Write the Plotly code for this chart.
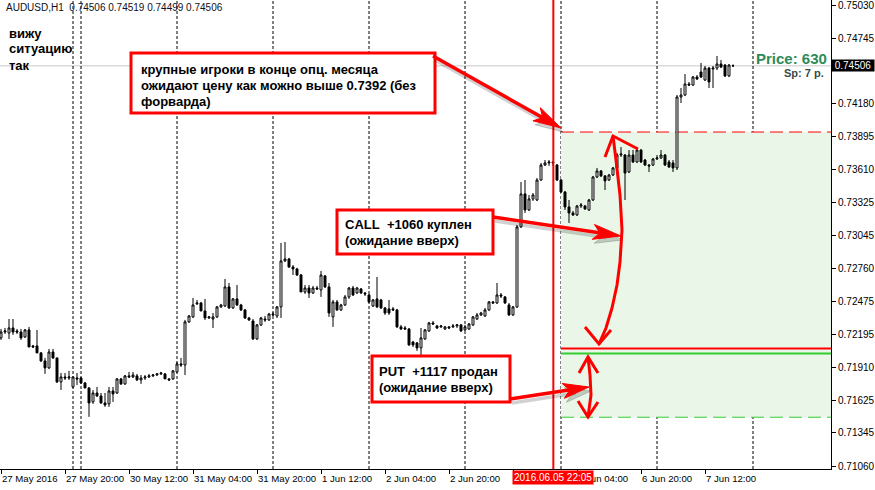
import math
import plotly.graph_objects as go

# ---------------- data (AUDUSD H1) ----------------
bar_index = list(range(184))  # 0 = 27 May 2016 04:00, one bar per hour (weekend skipped)

opens = [
    0.72163, 0.72214, 0.72206, 0.72249, 0.72223, 0.72214, 0.72171, 0.72232, 0.72094, 0.72094,
    0.72034, 0.71965, 0.71905, 0.72042, 0.71991, 0.71784, 0.71827, 0.71818, 0.71741, 0.71818,
    0.71818, 0.71775, 0.71732, 0.71612, 0.71689, 0.71663, 0.71603, 0.71595, 0.71706, 0.71689,
    0.71810, 0.71767, 0.71836, 0.71827, 0.71836, 0.71801, 0.71818, 0.71827, 0.71836, 0.71844,
    0.71853, 0.71853, 0.71810, 0.71810, 0.71870, 0.71939, 0.71930, 0.72301, 0.72344, 0.72456,
    0.72464, 0.72395, 0.72335, 0.72326, 0.72344, 0.72430, 0.72438, 0.72602, 0.72421, 0.72499,
    0.72447, 0.72404, 0.72335, 0.72309, 0.72154, 0.72275, 0.72326, 0.72318, 0.72369, 0.72352,
    0.72430, 0.72826, 0.72843, 0.72774, 0.72757, 0.72705, 0.72559, 0.72593, 0.72550, 0.72593,
    0.72576, 0.72697, 0.72602, 0.72344, 0.72473, 0.72404, 0.72447, 0.72516, 0.72593, 0.72550,
    0.72585, 0.72550, 0.72533, 0.72438, 0.72499, 0.72490, 0.72421, 0.72413, 0.72413, 0.72404,
    0.72258, 0.72249, 0.72240, 0.72128, 0.72120, 0.72077, 0.72154, 0.72223, 0.72292, 0.72266,
    0.72258, 0.72240, 0.72258, 0.72258, 0.72266, 0.72275, 0.72232, 0.72240, 0.72275, 0.72326,
    0.72361, 0.72352, 0.72404, 0.72473, 0.72464, 0.72533, 0.72516, 0.72447, 0.72361, 0.72430,
    0.73119, 0.73403, 0.73265, 0.73360, 0.73351, 0.73523, 0.73652, 0.73670, 0.73678, 0.73652,
    0.73523, 0.73420, 0.73291, 0.73239, 0.73222, 0.73299, 0.73299, 0.73265, 0.73351, 0.73549,
    0.73601, 0.73558, 0.73523, 0.73566, 0.73627, 0.73738, 0.73738, 0.73592, 0.73738, 0.73678,
    0.73781, 0.73695, 0.73652, 0.73652, 0.73704, 0.73713, 0.73738, 0.73678, 0.73670, 0.73627,
    0.74238, 0.74255, 0.74350, 0.74341, 0.74410, 0.74453, 0.74384, 0.74487, 0.74479, 0.74487,
    0.74522, 0.74513, 0.74419, 0.74506,
]
highs = [
    0.72240, 0.72249, 0.72326, 0.72326, 0.72240, 0.72240, 0.72240, 0.72258, 0.72103, 0.72232,
    0.72042, 0.71991, 0.72068, 0.72068, 0.71991, 0.71861, 0.71861, 0.71879, 0.71827, 0.71861,
    0.71827, 0.71784, 0.71741, 0.71715, 0.71741, 0.71689, 0.71689, 0.71741, 0.71741, 0.71818,
    0.71818, 0.71844, 0.71870, 0.71870, 0.71853, 0.71844, 0.71844, 0.71853, 0.71853, 0.71861,
    0.71870, 0.71861, 0.71818, 0.71887, 0.71956, 0.71991, 0.72318, 0.72361, 0.72507, 0.72490,
    0.72473, 0.72499, 0.72352, 0.72378, 0.72438, 0.72456, 0.72671, 0.72636, 0.72507, 0.72619,
    0.72456, 0.72413, 0.72344, 0.72326, 0.72283, 0.72344, 0.72352, 0.72378, 0.72387, 0.72438,
    0.72981, 0.72989, 0.72852, 0.72791, 0.72766, 0.72714, 0.72619, 0.72619, 0.72611, 0.72611,
    0.72740, 0.72705, 0.72636, 0.72490, 0.72490, 0.72456, 0.72533, 0.72602, 0.72611, 0.72602,
    0.72593, 0.72559, 0.72542, 0.72499, 0.72688, 0.72499, 0.72430, 0.72490, 0.72430, 0.72413,
    0.72275, 0.72266, 0.72249, 0.72137, 0.72128, 0.72249, 0.72240, 0.72301, 0.72309, 0.72275,
    0.72275, 0.72266, 0.72266, 0.72283, 0.72283, 0.72283, 0.72275, 0.72292, 0.72352, 0.72378,
    0.72387, 0.72421, 0.72481, 0.72481, 0.72636, 0.72550, 0.72524, 0.72464, 0.72438, 0.73136,
    0.73506, 0.73523, 0.73394, 0.73411, 0.73540, 0.73670, 0.73695, 0.73695, 0.73687, 0.73661,
    0.73532, 0.73428, 0.73351, 0.73256, 0.73308, 0.73325, 0.73308, 0.73360, 0.73558, 0.73627,
    0.73609, 0.73566, 0.73575, 0.73635, 0.73756, 0.73807, 0.73747, 0.73781, 0.73781, 0.73799,
    0.73790, 0.73704, 0.73661, 0.73713, 0.73738, 0.73781, 0.73747, 0.73695, 0.73695, 0.74255,
    0.74315, 0.74436, 0.74367, 0.74419, 0.74427, 0.74531, 0.74505, 0.74496, 0.74505, 0.74591,
    0.74556, 0.74522, 0.74522, 0.74519,
]
lows = [
    0.72146, 0.72197, 0.72154, 0.72189, 0.72197, 0.72146, 0.72163, 0.72085, 0.72077, 0.72034,
    0.71956, 0.71853, 0.71896, 0.71982, 0.71775, 0.71715, 0.71801, 0.71801, 0.71732, 0.71758,
    0.71767, 0.71732, 0.71483, 0.71595, 0.71655, 0.71595, 0.71569, 0.71569, 0.71612, 0.71681,
    0.71758, 0.71758, 0.71818, 0.71818, 0.71793, 0.71767, 0.71801, 0.71818, 0.71827, 0.71836,
    0.71844, 0.71810, 0.71793, 0.71801, 0.71861, 0.71913, 0.71844, 0.72292, 0.72335, 0.72447,
    0.72395, 0.72318, 0.72326, 0.72249, 0.72335, 0.72421, 0.72430, 0.72413, 0.72413, 0.72438,
    0.72395, 0.72326, 0.72309, 0.72146, 0.72146, 0.72266, 0.72301, 0.72309, 0.72352, 0.72335,
    0.72335, 0.72817, 0.72766, 0.72705, 0.72697, 0.72559, 0.72542, 0.72507, 0.72542, 0.72576,
    0.72516, 0.72593, 0.72344, 0.72258, 0.72395, 0.72395, 0.72438, 0.72499, 0.72524, 0.72542,
    0.72542, 0.72524, 0.72464, 0.72430, 0.72421, 0.72413, 0.72361, 0.72361, 0.72395, 0.72249,
    0.72232, 0.72232, 0.72094, 0.72085, 0.72051, 0.72008, 0.72146, 0.72214, 0.72275, 0.72240,
    0.72249, 0.72232, 0.72240, 0.72249, 0.72249, 0.72214, 0.72223, 0.72232, 0.72266, 0.72318,
    0.72352, 0.72344, 0.72395, 0.72456, 0.72456, 0.72507, 0.72456, 0.72352, 0.72352, 0.72421,
    0.73110, 0.73239, 0.73256, 0.73342, 0.73342, 0.73515, 0.73644, 0.73644, 0.73644, 0.73515,
    0.73411, 0.73265, 0.73153, 0.73213, 0.73213, 0.73282, 0.73265, 0.73256, 0.73342, 0.73540,
    0.73549, 0.73437, 0.73515, 0.73558, 0.73618, 0.73721, 0.73351, 0.73583, 0.73670, 0.73670,
    0.73670, 0.73644, 0.73592, 0.73644, 0.73695, 0.73704, 0.73644, 0.73627, 0.73592, 0.73609,
    0.74186, 0.74246, 0.74333, 0.74333, 0.74384, 0.74401, 0.74376, 0.74315, 0.74315, 0.74470,
    0.74487, 0.74410, 0.74410, 0.74499,
]
closes = [
    0.72214, 0.72223, 0.72249, 0.72214, 0.72214, 0.72163, 0.72232, 0.72085, 0.72085, 0.72034,
    0.71965, 0.71905, 0.72042, 0.71991, 0.71784, 0.71827, 0.71818, 0.71827, 0.71827, 0.71810,
    0.71775, 0.71732, 0.71603, 0.71689, 0.71663, 0.71603, 0.71586, 0.71706, 0.71681, 0.71810,
    0.71767, 0.71836, 0.71827, 0.71844, 0.71801, 0.71818, 0.71827, 0.71836, 0.71844, 0.71853,
    0.71861, 0.71810, 0.71801, 0.71879, 0.71939, 0.71930, 0.72301, 0.72352, 0.72447, 0.72464,
    0.72395, 0.72335, 0.72344, 0.72344, 0.72430, 0.72447, 0.72602, 0.72421, 0.72499, 0.72447,
    0.72404, 0.72335, 0.72318, 0.72154, 0.72275, 0.72335, 0.72318, 0.72369, 0.72361, 0.72430,
    0.72826, 0.72843, 0.72774, 0.72757, 0.72705, 0.72559, 0.72593, 0.72550, 0.72593, 0.72585,
    0.72705, 0.72602, 0.72378, 0.72473, 0.72404, 0.72447, 0.72516, 0.72593, 0.72533, 0.72593,
    0.72550, 0.72542, 0.72473, 0.72490, 0.72430, 0.72421, 0.72378, 0.72378, 0.72404, 0.72258,
    0.72240, 0.72240, 0.72103, 0.72103, 0.72077, 0.72163, 0.72232, 0.72292, 0.72283, 0.72249,
    0.72266, 0.72258, 0.72249, 0.72266, 0.72275, 0.72223, 0.72258, 0.72283, 0.72344, 0.72361,
    0.72378, 0.72404, 0.72473, 0.72464, 0.72533, 0.72524, 0.72464, 0.72361, 0.72430, 0.73119,
    0.73403, 0.73265, 0.73360, 0.73394, 0.73523, 0.73652, 0.73670, 0.73678, 0.73670, 0.73523,
    0.73420, 0.73291, 0.73239, 0.73222, 0.73299, 0.73308, 0.73274, 0.73351, 0.73549, 0.73601,
    0.73558, 0.73515, 0.73566, 0.73627, 0.73738, 0.73747, 0.73583, 0.73738, 0.73678, 0.73781,
    0.73678, 0.73652, 0.73644, 0.73704, 0.73713, 0.73738, 0.73652, 0.73635, 0.73627, 0.74238,
    0.74255, 0.74350, 0.74341, 0.74410, 0.74393, 0.74410, 0.74487, 0.74367, 0.74487, 0.74522,
    0.74496, 0.74419, 0.74513, 0.74506,
]

# x-axis labels (bar index -> text)
xtick_idx = [0, 16, 32, 48, 64, 80, 96, 112, 128, 144, 160, 176]
xtick_text = ["27 May 2016", "27 May 20:00", "30 May 12:00", "31 May 04:00", "31 May 20:00",
              "1 Jun 12:00", "2 Jun 04:00", "2 Jun 20:00", "3 Jun 12:00", "6 Jun 04:00",
              "6 Jun 20:00", "7 Jun 12:00"]
# price-axis labels (the one under the price tag is hidden by the tag)
ytick_vals = [0.75030, 0.74745, 0.74465, 0.74180, 0.73895, 0.73610, 0.73325, 0.73045,
              0.72760, 0.72475, 0.72195, 0.71910, 0.71625, 0.71345, 0.71060]
ytick_text = ["" if abs(v - 0.74465) < 1e-9 else "%.5f" % v for v in ytick_vals]

# day separators (bar index)
separators = [18, 20, 44, 68, 92, 116, 140, 164, 188]
# levels
current_price = 0.74506
zone_top = 0.73936        # red dashed (~0.7392 target)
zone_bottom = 0.71480     # green dashed
red_level = 0.72071
green_level = 0.72028
zone_start_bar = 140
event_bar = 138.083       # 2016.06.05 22:05

X_RANGE = [-0.25, 207.5]
Y_RANGE = [0.710342, 0.750731]

# ---------------- helpers for the hand-drawn annotation layer ----------------
PW, PH = 831.0, 469.0


def P(x, y):
    return "%.5f,%.5f" % (x / PW, 1 - y / PH)


def poly(points, close=False):
    s = "M" + P(*points[0]) + "".join(" L" + P(*p) for p in points[1:])
    return s + (" Z" if close else "")


shapes = []
RED = "#ff0000"
GREEN = "#33cc33"

# zone rectangle
shapes.append(dict(type="rect", xref="x", yref="y", x0=zone_start_bar, x1=X_RANGE[1],
                   y0=zone_bottom, y1=zone_top, fillcolor="#eaf7e8", line=dict(width=0),
                   layer="below"))
# current price line
shapes.append(dict(type="line", xref="paper", yref="y", x0=0, x1=1, y0=current_price,
                   y1=current_price, line=dict(color="#c8c8c8", width=1), layer="below"))
# separators
for s in separators:
    shapes.append(dict(type="line", xref="x", yref="paper", x0=s, x1=s, y0=0, y1=1,
                       line=dict(color="black", width=1, dash="3px,2px"), layer="below"))
# levels
shapes.append(dict(type="line", xref="x", yref="y", x0=zone_start_bar, x1=X_RANGE[1],
                   y0=zone_top, y1=zone_top, line=dict(color=RED, width=1, dash="13px,6px"),
                   layer="below"))
shapes.append(dict(type="line", xref="x", yref="y", x0=zone_start_bar, x1=X_RANGE[1],
                   y0=zone_bottom, y1=zone_bottom, line=dict(color=GREEN, width=1, dash="13px,6px"),
                   layer="below"))
shapes.append(dict(type="line", xref="x", yref="y", x0=zone_start_bar, x1=X_RANGE[1],
                   y0=red_level, y1=red_level, line=dict(color=RED, width=2), layer="below"))
shapes.append(dict(type="line", xref="x", yref="y", x0=zone_start_bar, x1=X_RANGE[1],
                   y0=green_level, y1=green_level, line=dict(color=GREEN, width=2), layer="below"))
# event vertical line
shapes.append(dict(type="line", xref="x", yref="paper", x0=event_bar, x1=event_bar, y0=0, y1=1,
                   line=dict(color=RED, width=2), layer="above"))

# text boxes
for (x0, y0, x1, y1) in [(131, 53, 435, 113), (337, 210, 493, 254), (372, 356, 510, 402)]:
    shapes.append(dict(type="rect", xref="paper", yref="paper", x0=x0 / PW, x1=x1 / PW,
                       y0=1 - y1 / PH, y1=1 - y0 / PH, fillcolor="white",
                       line=dict(color=RED, width=3), layer="above"))


def arrow(x0, y0, x1, y1, hl=28, hw=7.5):
    dx, dy = x1 - x0, y1 - y0
    L = math.hypot(dx, dy)
    ux, uy = dx / L, dy / L
    nx, ny = -uy, ux
    bx, by = x1 - ux * hl, y1 - uy * hl
    sx, sy = x1 - ux * hl * 0.6, y1 - uy * hl * 0.6
    nxp, nyp = x1 - ux * hl * 0.75, y1 - uy * hl * 0.75
    out = []
    for off, col in [((2, 4), "rgba(0,0,0,0.18)"), ((0, 0), RED)]:
        ox, oy = off
        out.append(dict(type="path", xref="paper", yref="paper",
                        path=poly([(x0 + ox, y0 + oy), (sx + ox, sy + oy)]),
                        line=dict(color=col, width=3.5), layer="above"))
        out.append(dict(type="path", xref="paper", yref="paper",
                        path=poly([(x1 + ox, y1 + oy), (bx + nx * hw + ox, by + ny * hw + oy),
                                   (nxp + ox, nyp + oy), (bx - nx * hw + ox, by - ny * hw + oy)],
                                  close=True),
                        fillcolor=col, line=dict(color=col, width=1), layer="above"))
    return out


shapes += arrow(433, 56, 561, 128)
shapes += arrow(493, 217, 621, 236)
shapes += arrow(510, 399, 589, 387, hl=26)

# freehand double arrows
free = [
    [(605, 157), (613, 136), (638, 149)],
    [(613, 136), (616, 160), (620, 195), (622, 230), (620, 262), (617, 285), (612, 308),
     (606, 328), (599, 344)],
    [(585, 327), (599, 344), (611, 330)],
    [(579, 373), (588, 357), (598, 373)],
    [(588, 357), (590, 375), (591, 395), (588, 417)],
    [(578, 401), (588, 417), (598, 402)],
]
for pts in free:
    shapes.append(dict(type="path", xref="paper", yref="paper", path=poly(pts),
                       line=dict(color=RED, width=3), layer="above"))

# ---------------- figure ----------------
FONT = "Liberation Sans, Arial, sans-serif"
fig = go.Figure()
fig.add_trace(go.Candlestick(
    x=bar_index, open=opens, high=highs, low=lows, close=closes,
    increasing=dict(line=dict(color="black", width=1), fillcolor="white"),
    decreasing=dict(line=dict(color="black", width=1), fillcolor="black"),
    whiskerwidth=0, hoverinfo="skip", showlegend=False))

ann = []


def txt(x, y, s, size=13, bold=True, color="black", anchor="left"):
    ann.append(dict(xref="paper", yref="paper", x=x / PW, y=1 - y / PH, text=s,
                    showarrow=False, xanchor=anchor, yanchor="middle",
                    font=dict(family=FONT, size=size, color=color,
                              weight="bold" if bold else "normal")))


txt(4, 8, "AUDUSD,H1\u00a0 0.74506 0.74519 0.74499 0.74506", size=10, bold=False, color="#101020")
txt(7, 33, "вижу")
txt(7, 49, "ситуацию")
txt(7, 65, "так")
txt(139, 69, "крупные игроки в конце опц. месяца")
txt(139, 85, "ожидают цену как можно выше 0.7392 (без")
txt(139, 101, "форварда)")
txt(343, 224, "CALL\u00a0 +1060 куплен")
txt(343, 240, "(ожидание вверх)")
txt(377, 371, "PUT\u00a0 +1117 продан")
txt(377, 387, "(ожидание вверх)")
txt(829, 59, "Price: 630", size=15, color="#2e8b57", anchor="right")
txt(826, 73, "Sp: 7 p.", size=11, color="#3a4a48", anchor="right")

# current price tag on the axis
ann.append(dict(xref="paper", yref="y", x=1, y=current_price, xanchor="left", yanchor="middle",
                text="0.74506", showarrow=False, bgcolor="black", borderpad=0, width=42, height=11,
                font=dict(family=FONT, size=10, color="white")))
# event time tag on the time axis
ann.append(dict(xref="x", yref="paper", x=event_bar, y=-9 / PH, xanchor="center", yanchor="middle",
                text="2016.06.05 22:05", showarrow=False, bgcolor=RED, borderpad=1,
                font=dict(family=FONT, size=10, color="white")))

fig.update_layout(
    width=875, height=490,
    margin=dict(l=0, r=44, t=0, b=21, pad=0, autoexpand=False),
    paper_bgcolor="white", plot_bgcolor="white",
    shapes=shapes, annotations=ann,
    showlegend=False,
    xaxis=dict(range=X_RANGE, showgrid=False, zeroline=False, showline=True, linecolor="black",
               linewidth=1, ticks="outside", ticklen=4, tickcolor="black", tickangle=0,
               tickvals=xtick_idx, ticktext=xtick_text, ticklabelposition="outside right",
               tickfont=dict(family=FONT, size=9.6, color="black"), automargin=False,
               ticklabeloverflow="allow",
               rangeslider=dict(visible=False), fixedrange=True),
    yaxis=dict(range=Y_RANGE, side="right", showgrid=False, zeroline=False, showline=True,
               linecolor="black", linewidth=1, ticks="outside", ticklen=4, tickcolor="black",
               tickvals=ytick_vals, ticktext=ytick_text, automargin=False,
               ticklabeloverflow="allow",
               tickfont=dict(family=FONT, size=10, color="black"), fixedrange=True),
)

fig.write_html("out.html")
